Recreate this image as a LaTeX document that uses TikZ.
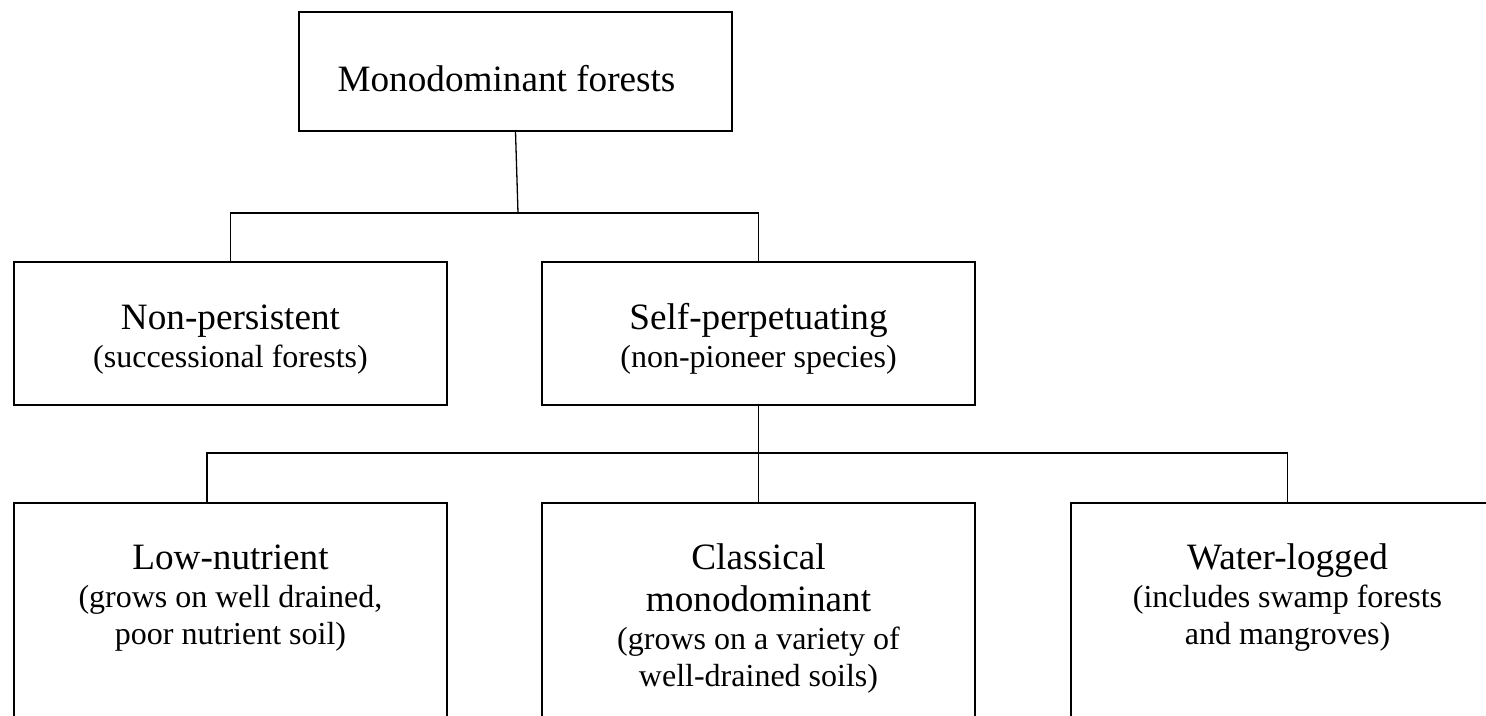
\documentclass[tikz,border=0pt]{standalone}
\usepackage{fontspec}
\setmainfont{Liberation Serif}
\usetikzlibrary{positioning}
\newcommand{\headfont}{\fontsize{18.6}{21}\selectfont}
\newcommand{\notefont}{\fontsize{16}{18.5}\selectfont}
\begin{document}
\begin{tikzpicture}
    [x=0.5pt, y=-0.5pt,
    box/.style={draw=black, line width=0.8pt, minimum width=216.5pt, inner sep=0pt},
    rootbox/.style={box, minimum height=59.5pt},
    midbox/.style={box, minimum height=71.5pt},
    leafbox/.style={box, minimum height=130pt, anchor=north},
    boxtext/.style={inner sep=0pt, font=\headfont},
    link/.style={draw=black, line width=0.65pt}]
    \useasboundingbox (0,0) rectangle (1486,716);
    \clip (0,0) rectangle (1486,716);
    % boxes
    \node [rootbox] (mono) at (515.5,71.5) {};
    \node [midbox] (nonpers) at (230.5,333.5) {};
    \node [midbox] (selfperp) at (758.5,333.5) {};
    \node [leafbox] (lownut) at (230.5,502) {};
    \node [leafbox] (classic) at (758.5,502) {};
    \node [leafbox] (waterlog) at (1287.5,502) {};
    % texts
    \node [boxtext, below=26.7pt of mono.north, xshift=-4.5pt] (monotext) {Monodominant forests};
    \node [boxtext, below=19pt of nonpers.north] (nonperstext)
        {\begin{tabular}{c}
        Non-persistent\\[-2pt]
        \notefont (successional forests)
        \end{tabular}};
    \node [boxtext, below=19pt of selfperp.north] (selfperptext)
        {\begin{tabular}{c}
        Self-perpetuating\\[-2pt]
        \notefont (non-pioneer species)
        \end{tabular}};
    \node [boxtext, below=19pt of lownut.north] (lownuttext)
        {\begin{tabular}{c}
        Low-nutrient\\[-2pt]
        \notefont (grows on well drained,\\[-2.5pt]
        \notefont poor nutrient soil)
        \end{tabular}};
    \node [boxtext, below=19pt of classic.north] (classictext)
        {\begin{tabular}{c}
        Classical\\
        monodominant\\[-2pt]
        \notefont (grows on a variety of\\[-2.5pt]
        \notefont well-drained soils)
        \end{tabular}};
    \node [boxtext, below=19pt of waterlog.north] (waterlogtext)
        {\begin{tabular}{c}
        Water-logged\\[-2pt]
        \notefont (includes swamp forests\\[-2.5pt]
        \notefont and mangroves)
        \end{tabular}};
    % connectors
    \coordinate (rootjoin) at (518,213);
    \coordinate (leafjoin) at (758.5,453);
    \coordinate (lowlink) at (207,502);
    \draw [link] (mono.south) -- (rootjoin);
    \draw [link] (nonpers.north) -- (nonpers.north |- rootjoin) -| (selfperp.north);
    \draw [link] (selfperp.south) -- (classic.north);
    \draw [link] (lowlink) |- (leafjoin) -| (waterlog.north);
\end{tikzpicture}
\end{document}
